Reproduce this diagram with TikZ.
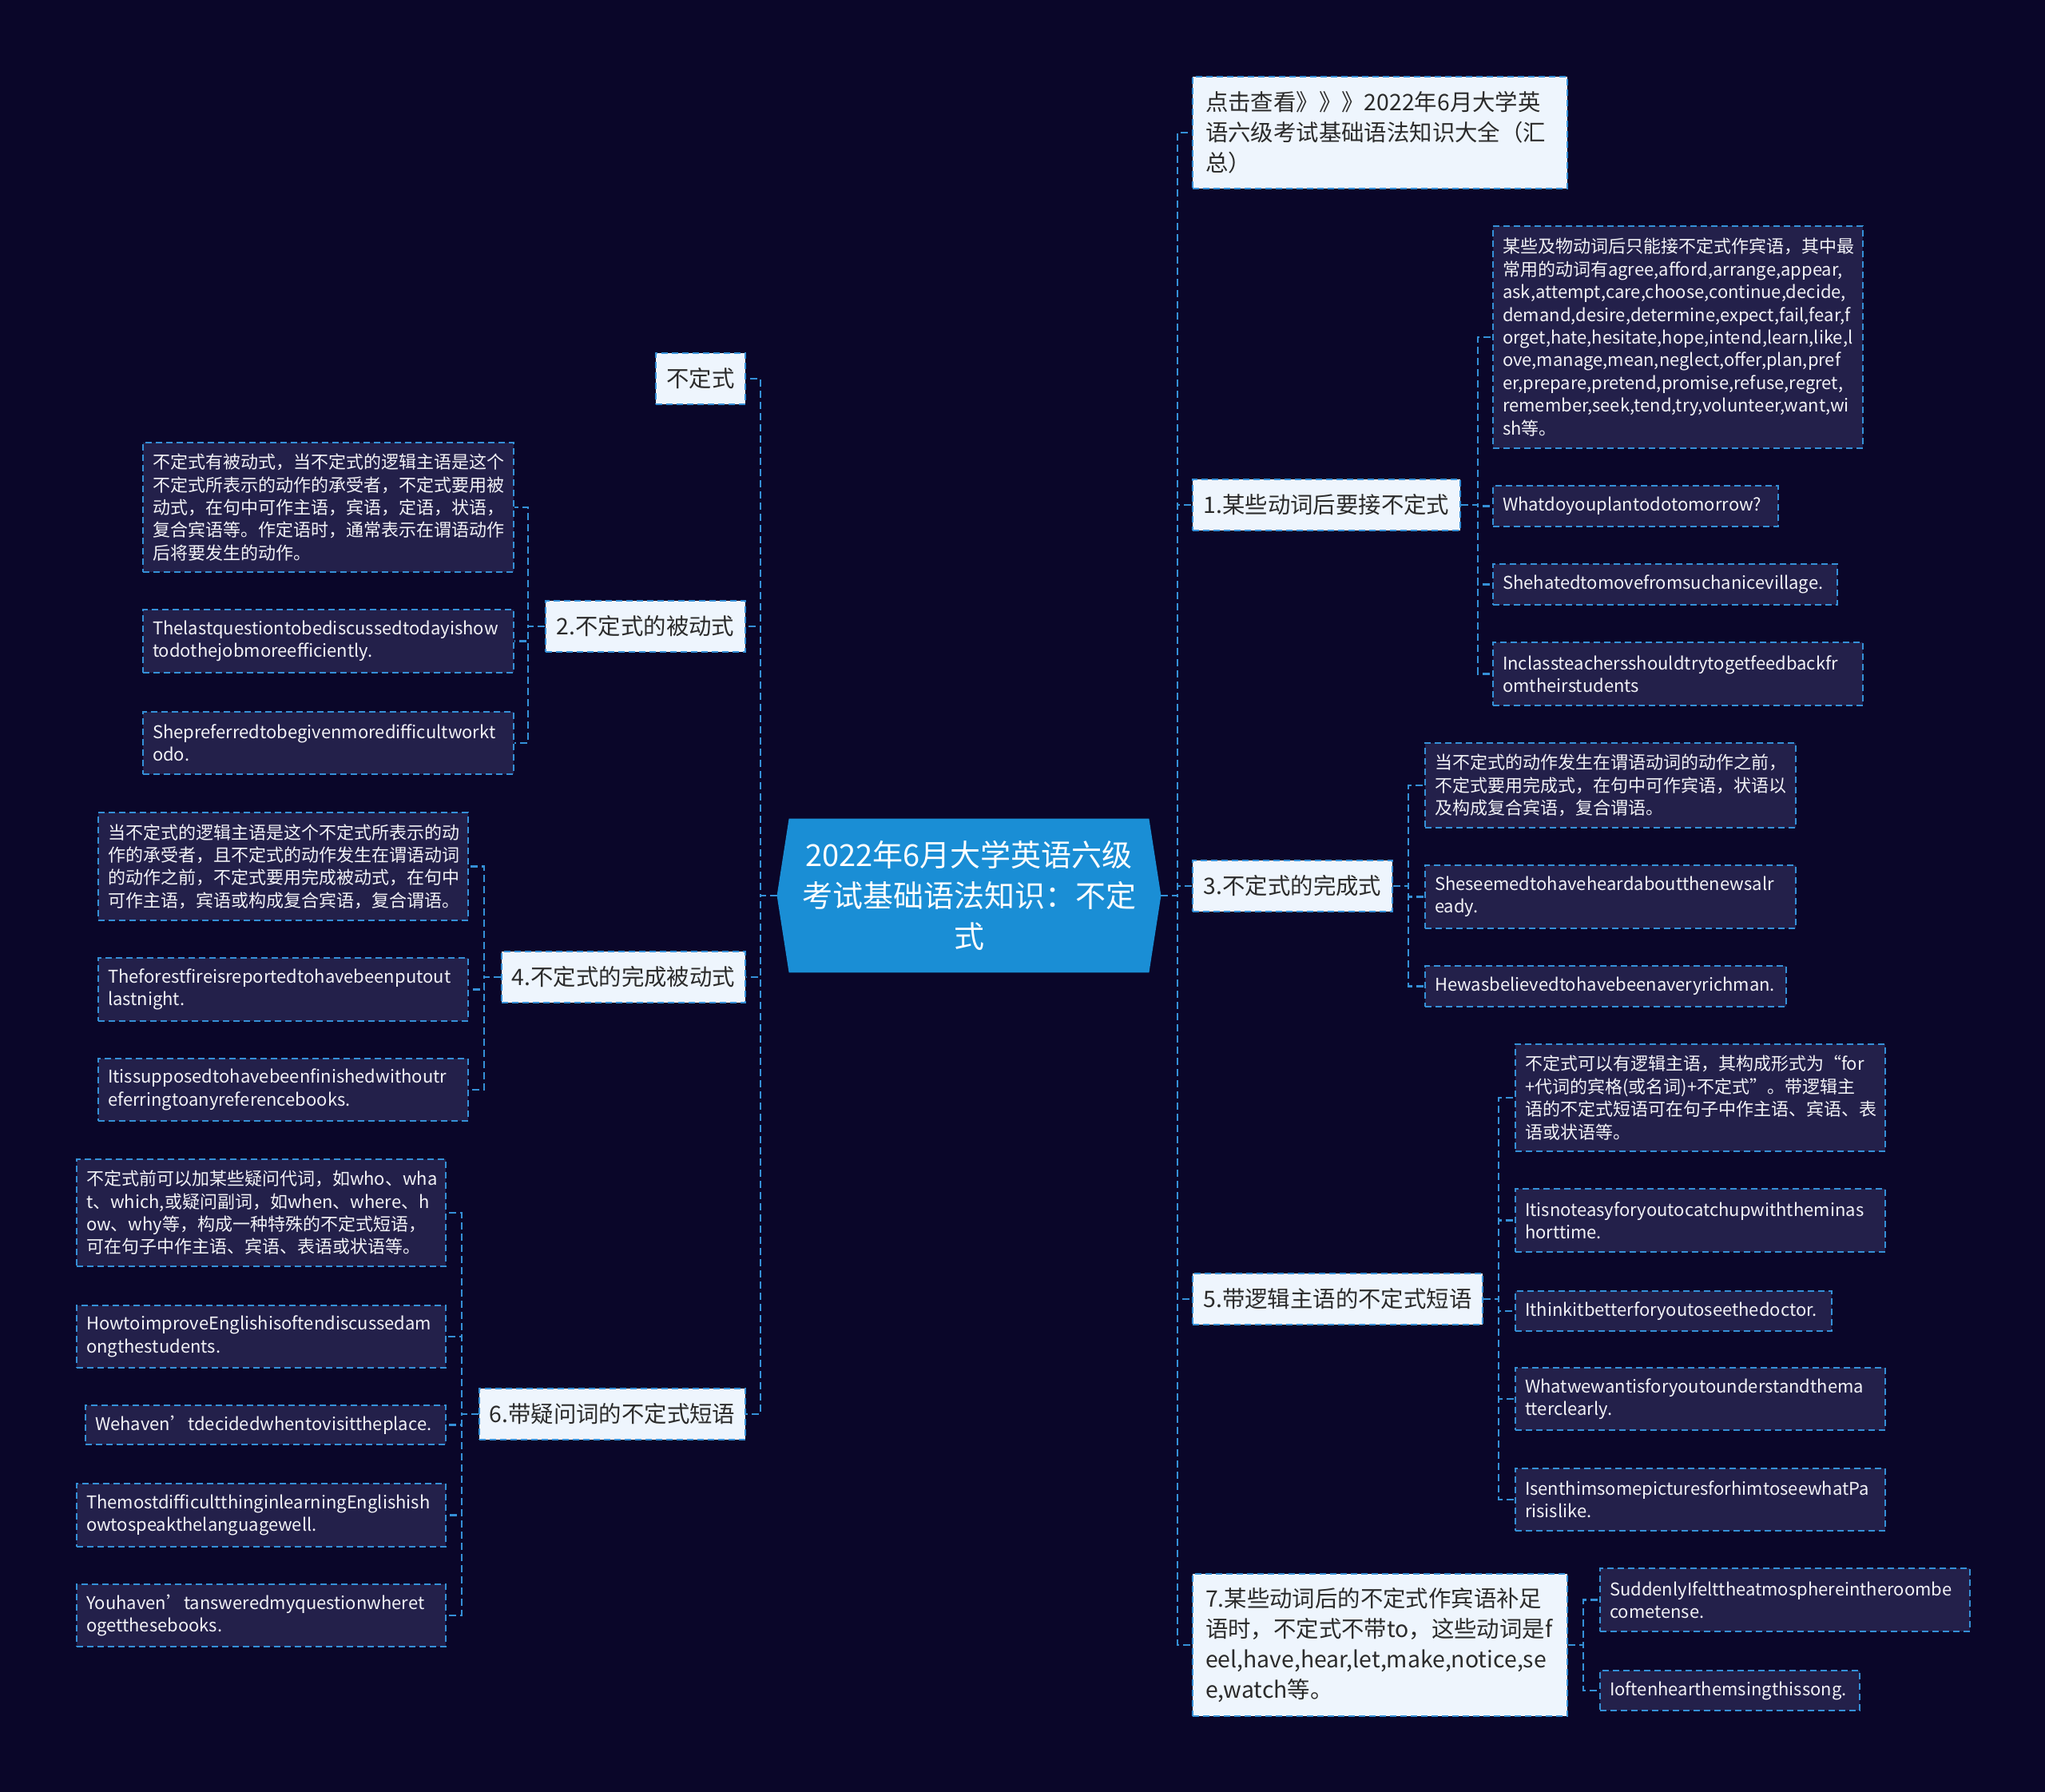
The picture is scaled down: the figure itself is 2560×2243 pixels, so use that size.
\documentclass[tikz,border=0pt]{standalone}
\usepackage{fontspec}
\setmainfont{Noto Sans CJK SC}
\usetikzlibrary{backgrounds,calc}
\hyphenpenalty=10000
\exhyphenpenalty=10000
\definecolor{bg}{HTML}{0A0629}
\definecolor{cblue}{HTML}{1A8ED5}
\definecolor{lineblue}{HTML}{3590D8}
\definecolor{lfill}{HTML}{EEF5FD}
\definecolor{ltext}{HTML}{2B2B2B}
\definecolor{dfill}{HTML}{23204A}
\definecolor{dtext}{HTML}{F2F2F6}
\tikzset{
  lone/.style={draw=lineblue, line width=1pt, dash pattern=on 4pt off 2.5pt, fill=lfill, text=ltext,
    font=\fontsize{14.2}{19}\selectfont, align=left},
  ltwo/.style={draw=lineblue, line width=1pt, dash pattern=on 4pt off 2.5pt, fill=dfill, text=dtext,
    font=\fontsize{11}{14.2}\selectfont, align=left},
  conn/.style={draw=lineblue, line width=1.2pt, dash pattern=on 4.5pt off 2.5pt},
  cnode/.style={text=white, font=\fontsize{19}{25.5}\selectfont, align=center, inner sep=0pt,
    minimum width=225pt, minimum height=96pt}
}
\newcommand\bx[8]{%
  \pgfmathsetmacro\bw{(#5-#3)*0.5}%
  \pgfmathsetmacro\bh{(#6-#4)*0.5}%
  \pgfmathsetmacro\tw{\bw-2*#7}%
  \node[#2, anchor=north west, inner xsep=#7pt, inner ysep=0pt, minimum width=\bw pt,
        minimum height=\bh pt, text width=\tw pt] (#1) at (#3,#4) {#8};}
\begin{document}
\begin{tikzpicture}[x=0.5pt,y=-0.5pt]
\begin{scope}[on background layer]
\fill[bg] (0,0) rectangle (2560,2243);
\end{scope}
\useasboundingbox (0,0) rectangle (2560,2243);

% central node
\node[cnode] (c) at (1213,1121) {2022年6月大学英语六级\\考试基础语法知识：不定\\式};
\begin{scope}[on background layer]
\fill[cblue] (c.north west) -- (c.north east) -- ([xshift=7.5pt]c.east) -- (c.south east)
  -- (c.south west) -- ([xshift=-7.5pt]c.west) -- cycle;
\end{scope}
\coordinate (cr) at ([xshift=7.5pt]c.east);
\coordinate (cl) at ([xshift=-7.5pt]c.west);

% trunk coordinates
\coordinate (tR) at (1474,0);
\coordinate (tL) at (952,0);
\coordinate (t1) at (1850,0);
\coordinate (t3) at (1763,0);
\coordinate (t5) at (1876,0);
\coordinate (t7) at (1982,0);
\coordinate (t2) at (661,0);
\coordinate (t4) at (606,0);
\coordinate (t6) at (578,0);

% right level 1
\bx{r0}{lone}{1492}{95}{1961}{235}{8}{点击查看》》》2022年6月大学英\\语六级考试基础语法知识大全（汇\\总）}
\bx{r1}{lone,align=center}{1492}{599}{1827}{663}{6}{1.某些动词后要接不定式}
\bx{r3}{lone,align=center}{1492}{1076}{1742}{1140}{6}{3.不定式的完成式}
\bx{r5}{lone,align=center}{1492}{1593}{1855}{1657}{6}{5.带逻辑主语的不定式短语}
\bx{r7}{lone}{1492}{1969}{1961}{2147}{8}{7.某些动词后的不定式作宾语补足\\语时，不定式不带to，这些动词是f\\eel,have,hear,let,make,notice,se\\e,watch等。}

% left level 1
\bx{l0}{lone,align=center}{820}{441}{932}{505}{4}{不定式}
\bx{l2}{lone,align=center}{682}{751}{932}{815}{6}{2.不定式的被动式}
\bx{l4}{lone,align=center}{627}{1190}{932}{1254}{6}{4.不定式的完成被动式}
\bx{l6}{lone,align=center}{599}{1737}{932}{1801}{6}{6.带疑问词的不定式短语}

% right level 2
\bx{r1a}{ltwo}{1868}{282}{2331}{560}{6}{某些及物动词后只能接不定式作宾语，其中最\\常用的动词有agree,afford,arrange,appear,\\ask,attempt,care,choose,continue,decide,\\demand,desire,determine,expect,fail,fear,f\\orget,hate,hesitate,hope,intend,learn,like,l\\ove,manage,mean,neglect,offer,plan,pref\\er,prepare,pretend,promise,refuse,regret,\\remember,seek,tend,try,volunteer,want,wi\\sh等。}
\bx{r1b}{ltwo}{1868}{607}{2225}{658}{6}{Whatdoyouplantodotomorrow?}
\bx{r1c}{ltwo}{1868}{705}{2299}{756}{6}{Shehatedtomovefromsuchanicevillage.}
\bx{r1d}{ltwo}{1868}{803}{2331}{882}{6}{Inclassteachersshouldtrytogetfeedbackfr\\omtheirstudents}
\bx{r3a}{ltwo}{1783}{929}{2247}{1035}{6}{当不定式的动作发生在谓语动词的动作之前，\\不定式要用完成式，在句中可作宾语，状语以\\及构成复合宾语，复合谓语。}
\bx{r3b}{ltwo}{1783}{1082}{2247}{1161}{6}{Sheseemedtohaveheardaboutthenewsalr\\eady.}
\bx{r3c}{ltwo}{1783}{1208}{2235}{1259}{6}{Hewasbelievedtohavebeenaveryrichman.}
\bx{r5a}{ltwo}{1896}{1306}{2359}{1440}{6}{不定式可以有逻辑主语，其构成形式为“for\\+代词的宾格(或名词)+不定式”。带逻辑主\\语的不定式短语可在句子中作主语、宾语、表\\语或状语等。}
\bx{r5b}{ltwo}{1896}{1487}{2359}{1566}{6}{Itisnoteasyforyoutocatchupwiththeminas\\horttime.}
\bx{r5c}{ltwo}{1896}{1615}{2292}{1665}{6}{Ithinkitbetterforyoutoseethedoctor.}
\bx{r5d}{ltwo}{1896}{1711}{2359}{1789}{6}{Whatwewantisforyoutounderstandthema\\tterclearly.}
\bx{r5e}{ltwo}{1896}{1837}{2359}{1915}{6}{IsenthimsomepicturesforhimtoseewhatPa\\risislike.}
\bx{r7a}{ltwo}{2002}{1962}{2465}{2041}{6}{SuddenlyIfelttheatmosphereintheroombe\\cometense.}
\bx{r7b}{ltwo}{2002}{2090}{2327}{2140}{6}{Ioftenhearthemsingthissong.}

% left level 2
\bx{l2a}{ltwo}{178}{553}{642}{715}{6}{不定式有被动式，当不定式的逻辑主语是这个\\不定式所表示的动作的承受者，不定式要用被\\动式，在句中可作主语，宾语，定语，状语，\\复合宾语等。作定语时，通常表示在谓语动作\\后将要发生的动作。}
\bx{l2b}{ltwo}{178}{762}{642}{841}{6}{Thelastquestiontobediscussedtodayishow\\todothejobmoreefficiently.}
\bx{l2c}{ltwo}{178}{890}{642}{968}{6}{Shepreferredtobegivenmoredifficultworkt\\odo.}
\bx{l4a}{ltwo}{122}{1016}{585}{1151}{6}{当不定式的逻辑主语是这个不定式所表示的动\\作的承受者，且不定式的动作发生在谓语动词\\的动作之前，不定式要用完成被动式，在句中\\可作主语，宾语或构成复合宾语，复合谓语。}
\bx{l4b}{ltwo}{122}{1198}{585}{1277}{6}{Theforestfireisreportedtohavebeenputout\\lastnight.}
\bx{l4c}{ltwo}{122}{1324}{585}{1402}{6}{Itissupposedtohavebeenfinishedwithoutr\\eferringtoanyreferencebooks.}
\bx{l6a}{ltwo}{95}{1450}{557}{1584}{6}{不定式前可以加某些疑问代词，如who、wha\\t、which,或疑问副词，如when、where、h\\ow、why等，构成一种特殊的不定式短语，\\可在句子中作主语、宾语、表语或状语等。}
\bx{l6b}{ltwo}{95}{1633}{557}{1711}{6}{HowtoimproveEnglishisoftendiscussedam\\ongthestudents.}
\bx{l6c}{ltwo}{106}{1758}{557}{1807}{6}{Wehaven’tdecidedwhentovisittheplace.}
\bx{l6d}{ltwo}{95}{1856}{557}{1935}{6}{ThemostdifficultthinginlearningEnglishish\\owtospeakthelanguagewell.}
\bx{l6e}{ltwo}{95}{1982}{557}{2060}{6}{Youhaven’tansweredmyquestionwheret\\ogetthesebooks.}

% connectors: centre to level 1
\foreach \n in {r0,r1,r3,r5,r7} \draw[conn] (cr) -- (tR |- cr) |- (\n.west);
\foreach \n in {l0,l2,l4,l6} \draw[conn] (cl) -- (tL |- cl) |- (\n.east);

% level 1 to level 2
\foreach \n in {r1a,r1b,r1c,r1d} \draw[conn] (r1.east) -- (t1 |- r1.east) |- (\n.west);
\foreach \n in {r3a,r3b,r3c} \draw[conn] (r3.east) -- (t3 |- r3.east) |- (\n.west);
\foreach \n in {r5a,r5b,r5c,r5d,r5e} \draw[conn] (r5.east) -- (t5 |- r5.east) |- (\n.west);
\foreach \n in {r7a,r7b} \draw[conn] (r7.east) -- (t7 |- r7.east) |- (\n.west);
\foreach \n in {l2a,l2b,l2c} \draw[conn] (l2.west) -- (t2 |- l2.west) |- (\n.east);
\foreach \n in {l4a,l4b,l4c} \draw[conn] (l4.west) -- (t4 |- l4.west) |- (\n.east);
\foreach \n in {l6a,l6b,l6c,l6d,l6e} \draw[conn] (l6.west) -- (t6 |- l6.west) |- (\n.east);
\end{tikzpicture}
\end{document}
